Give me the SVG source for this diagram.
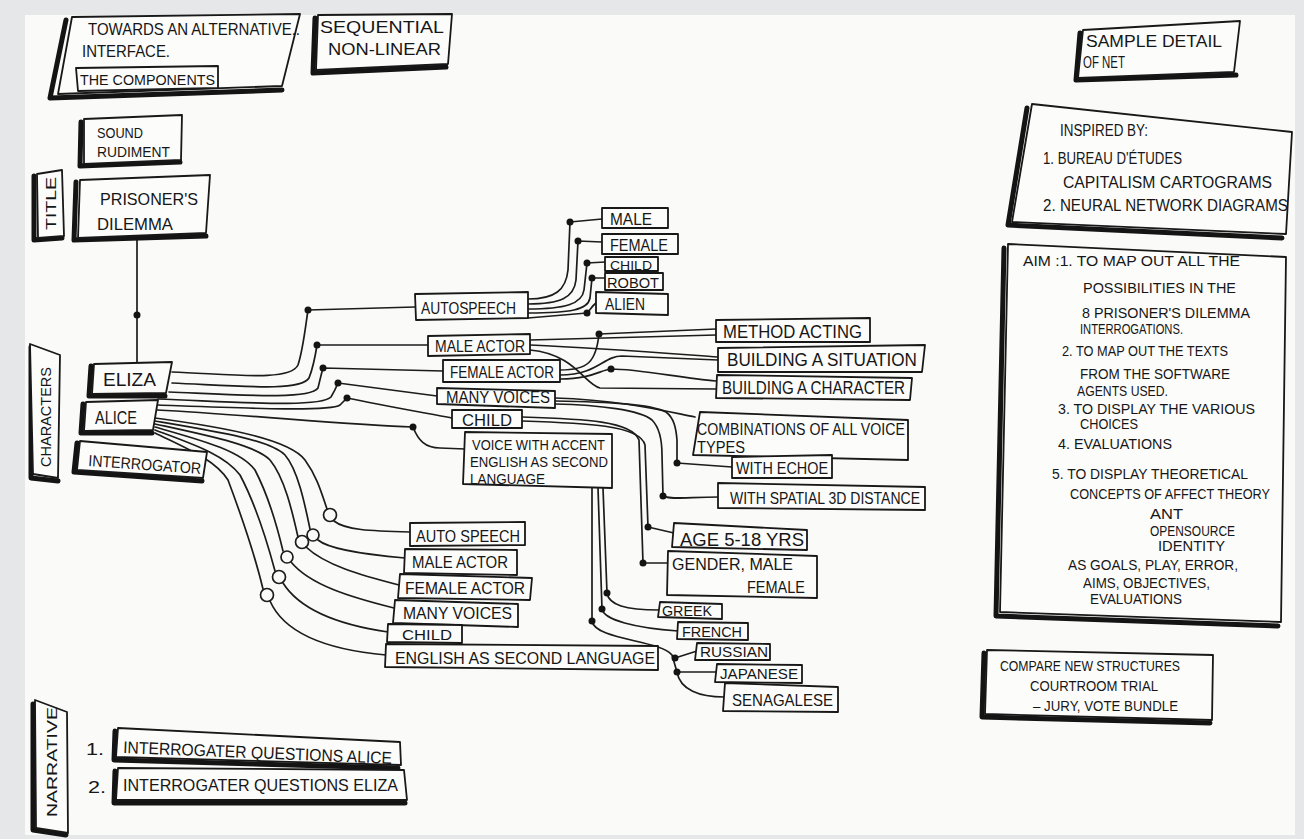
<svg xmlns="http://www.w3.org/2000/svg" width="1304" height="839" viewBox="0 0 1304 839">
<style>
.bg{fill:#e5e7e9}
.paper{fill:#fafaf9}
.box{fill:#fcfcfb;stroke:#181818;stroke-width:1.8;stroke-linejoin:round}
.sh{fill:none;stroke:#141414;stroke-width:5;stroke-linecap:round;stroke-linejoin:round}
.w{fill:none;stroke:#1c1c1c;stroke-width:1.7;stroke-linecap:round;stroke-linejoin:round}
.dot{fill:#141414}
.ring{fill:none;stroke:#1c1c1c;stroke-width:1.7}
text{font-family:"Liberation Sans",Arial,sans-serif;fill:#161616;font-size:17px}
.s{font-size:14px}
.xs{font-size:13px}
.m{font-size:18px}
.b{font-size:16px}
.a{font-size:14px}
.c{font-size:15px}
</style>
<rect class="bg" x="0" y="0" width="1304" height="839"/>
<rect class="paper" x="25" y="15" width="1270" height="820"/>

<g id="connectors">
  <path class="w" d="M137,237 L137,362"/>
  <circle class="dot" cx="137" cy="315" r="3.5"/>
  <path class="w" d="M172,372 C230,374 290,382 298,365 C303,350 305,330 308,310 L415,307"/>
  <path class="w" d="M172,383 C240,386 300,392 309,378 C313,368 315,358 317,345 L428,345"/>
  <path class="w" d="M169,392 C240,395 310,400 318,388 C320,380 321,375 323,368 L443,371"/>
  <path class="w" d="M158,399 C240,402 320,408 331,397 C334,392 336,388 338,383 L437,396"/>
  <path class="w" d="M158,405 C240,408 330,412 340,405 L347,398 C380,405 420,412 452,418"/>
  <path class="w" d="M157,410 C250,415 350,425 413,427 C418,440 425,448 440,448 L465,449"/>
  <circle class="dot" cx="308" cy="310" r="3.5"/>
  <circle class="dot" cx="317" cy="345" r="3.5"/>
  <circle class="dot" cx="323" cy="368" r="3.5"/>
  <circle class="dot" cx="338" cy="383" r="3.5"/>
  <circle class="dot" cx="347" cy="398" r="3.5"/>
  <circle class="dot" cx="413" cy="427" r="3.5"/>
  <path class="w" d="M155,418 C230,428 290,440 305,460 C318,478 322,495 327,509"/>
  <path class="w" d="M334,521 C345,530 370,531 410,532"/>
  <path class="w" d="M155,421 C220,432 270,440 285,455 C298,470 305,505 310,529"/>
  <path class="w" d="M318,540 C330,550 370,555 405,558"/>
  <path class="w" d="M155,424 C210,436 255,445 270,460 C285,478 293,515 298,537"/>
  <path class="w" d="M306,547 C325,565 360,575 399,585"/>
  <path class="w" d="M155,427 C200,440 240,450 255,470 C268,495 278,530 283,551"/>
  <path class="w" d="M291,562 C310,585 350,597 394,608"/>
  <path class="w" d="M155,430 C195,445 225,455 240,475 C256,505 268,545 275,571"/>
  <path class="w" d="M283,583 C300,610 340,625 388,632"/>
  <path class="w" d="M155,433 C190,450 215,460 228,480 C243,520 256,560 263,589"/>
  <path class="w" d="M270,601 C285,635 330,650 386,655"/>
  <circle class="ring" cx="330" cy="515" r="6.5"/>
  <circle class="ring" cx="313" cy="535" r="6"/>
  <circle class="ring" cx="302" cy="542" r="6.5"/>
  <circle class="ring" cx="287" cy="557" r="6"/>
  <circle class="ring" cx="279" cy="577" r="6.5"/>
  <circle class="ring" cx="267" cy="595" r="6.5"/>
  <path class="w" d="M528,299 C555,299 566,290 568,270 L570,222 L602,219"/>
  <path class="w" d="M528,304 C560,304 574,298 576,280 L578,241 L602,242"/>
  <path class="w" d="M528,309 C565,309 582,304 584,290 L587,263 L605,262"/>
  <path class="w" d="M528,313 C570,313 588,310 590,298 L592,278 L605,278"/>
  <path class="w" d="M528,318 L587,313 C590,310 592,306 596,303"/>
  <circle class="dot" cx="570" cy="222" r="3.5"/>
  <circle class="dot" cx="578" cy="241" r="3.5"/>
  <circle class="dot" cx="587" cy="263" r="3.5"/>
  <circle class="dot" cx="592" cy="278" r="3.5"/>
  <circle class="dot" cx="587" cy="313" r="3.5"/>
  <path class="w" d="M530,340 L716,335"/>
  <path class="w" d="M530,345 C600,348 650,352 718,357"/>
  <path class="w" d="M530,350 C575,354 585,385 600,388 L716,389"/>
  <path class="w" d="M560,370 C588,370 596,362 599,334 L716,329"/>
  <path class="w" d="M560,375 C598,375 603,356 622,356 L718,360"/>
  <path class="w" d="M560,379 C592,379 600,370 611,369 C640,369 680,378 716,381"/>
  <circle class="dot" cx="599" cy="334" r="3.5"/>
  <circle class="dot" cx="611" cy="369" r="3.5"/>
  <path class="w" d="M555,398 C620,400 660,410 695,417"/>
  <path class="w" d="M555,401 C610,402 650,404 666,412 C674,418 676,428 677,440 L677,463 L732,467"/>
  <path class="w" d="M555,404 C600,405 640,410 652,420 C660,428 662,440 662,455 L663,496 C670,500 690,497 718,497"/>
  <circle class="dot" cx="677" cy="463" r="3.5"/>
  <circle class="dot" cx="663" cy="496" r="3.5"/>
  <path class="w" d="M522,417 C585,419 632,421 639,440 L643,563 L668,563"/>
  <path class="w" d="M522,421 C585,423 640,425 645,445 L648,527 L674,533"/>
  <circle class="dot" cx="648" cy="527" r="3.5"/>
  <circle class="dot" cx="643" cy="563" r="3.5"/>
  <path class="w" d="M603,488 L607,593 C609,605 625,610 659,610"/>
  <path class="w" d="M598,488 L602,609 C604,620 635,628 678,631"/>
  <path class="w" d="M592,488 L592,621 C595,640 660,640 672,655 L677,672 C680,690 700,697 724,697"/>
  <path class="w" d="M675,658 L697,651"/>
  <path class="w" d="M677,672 L716,672"/>
  <circle class="dot" cx="607" cy="593" r="3.5"/>
  <circle class="dot" cx="602" cy="609" r="3.5"/>
  <circle class="dot" cx="592" cy="621" r="3.5"/>
  <circle class="dot" cx="675" cy="658" r="3.5"/>
  <circle class="dot" cx="677" cy="672" r="3.5"/>
</g>

<g id="n-towards">
  <polyline class="sh" points="66,20 50,98 282,90"/>
  <polygon class="box" points="72,17 300,14 282,86 58,94"/>
  <text x="88" y="35" textLength="212" lengthAdjust="spacingAndGlyphs">TOWARDS AN ALTERNATIVE..</text>
  <text x="82" y="57" textLength="88" lengthAdjust="spacingAndGlyphs">INTERFACE.</text>
  <polygon class="box" points="76,68 218,66 218,88 78,91"/>
  <text class="s" x="80" y="85" textLength="135" lengthAdjust="spacingAndGlyphs">THE COMPONENTS</text>
</g>
<g id="n-sequential">
  <polyline class="sh" points="315,18 313,73 446,67"/>
  <polygon class="box" points="318,15 452,14 448,64 316,70"/>
  <text x="320" y="33" textLength="124" lengthAdjust="spacingAndGlyphs">SEQUENTIAL</text>
  <text x="328" y="55" textLength="113" lengthAdjust="spacingAndGlyphs">NON-LINEAR</text>
</g>
<g id="n-sound">
  <polyline class="sh" points="81,122 80,166 180,162"/>
  <polygon class="box" points="84,119 182,115 181,160 84,164"/>
  <text class="c" x="97" y="138" textLength="46" lengthAdjust="spacingAndGlyphs">SOUND</text>
  <text class="c" x="97" y="157" textLength="73" lengthAdjust="spacingAndGlyphs">RUDIMENT</text>
</g>
<g id="n-title">
  <polyline class="sh" points="34,176 34,240 62,238"/>
  <polygon class="box" points="37,174 62,170 64,236 38,238"/>
  <text class="c" transform="translate(56,230) rotate(-90)" textLength="53" lengthAdjust="spacingAndGlyphs">TITLE</text>
</g>
<g id="n-prisoner">
  <polyline class="sh" points="76,182 74,240 206,236"/>
  <polygon class="box" points="80,180 210,175 206,233 78,238"/>
  <text x="100" y="205" textLength="98" lengthAdjust="spacingAndGlyphs">PRISONER'S</text>
  <text x="97" y="230" textLength="76" lengthAdjust="spacingAndGlyphs">DILEMMA</text>
</g>
<g id="n-characters">
  <polyline class="sh" points="31,347 31,478 58,481"/>
  <polygon class="box" points="30,344 60,355 58,478 33,474"/>
  <text class="c" transform="translate(51,467) rotate(-90)" textLength="100" lengthAdjust="spacingAndGlyphs">CHARACTERS</text>
</g>
<g id="n-eliza">
  <polyline class="sh" points="91,366 89,396 165,396"/>
  <polygon class="box" points="94,364 172,362 166,393 92,394"/>
  <text class="m" x="103" y="386" textLength="53" lengthAdjust="spacingAndGlyphs">ELIZA</text>
</g>
<g id="n-alice">
  <polyline class="sh" points="83,404 81,433 152,433"/>
  <polygon class="box" points="86,402 158,400 153,430 84,431"/>
  <text class="m" x="95" y="424" textLength="42" lengthAdjust="spacingAndGlyphs">ALICE</text>
</g>
<g id="n-interrogator">
  <polyline class="sh" points="77,443 74,472 202,481"/>
  <polygon class="box" points="80,441 207,452 203,478 77,470"/>
  <text class="b" x="88" y="466" transform="rotate(4,88,466)" textLength="113" lengthAdjust="spacingAndGlyphs">INTERROGATOR</text>
</g>

<g id="n-autospeech">
  <polygon class="box" points="415,294 528,292 528,318 416,320"/>
  <text x="421" y="314" textLength="95" lengthAdjust="spacingAndGlyphs">AUTOSPEECH</text>
</g>
<g id="n-male">
  <polygon class="box" points="602,208 668,208 668,228 602,228"/>
  <text class="b" x="610" y="225" textLength="42" lengthAdjust="spacingAndGlyphs">MALE</text>
</g>
<g id="n-female">
  <polygon class="box" points="602,234 678,234 678,254 602,254"/>
  <text class="b" x="610" y="251" textLength="58" lengthAdjust="spacingAndGlyphs">FEMALE</text>
</g>
<g id="n-child1">
  <polygon class="box" points="605,257 658,257 658,271 605,271"/>
  <text class="xs" x="610" y="270" textLength="42" lengthAdjust="spacingAndGlyphs">CHILD</text>
</g>
<g id="n-robot">
  <polygon class="box" points="605,273 663,273 663,290 605,290"/>
  <text class="c" x="607" y="288" textLength="52" lengthAdjust="spacingAndGlyphs">ROBOT</text>
</g>
<g id="n-alien">
  <polygon class="box" points="596,292 668,294 668,315 596,313"/>
  <text class="b" x="605" y="310" textLength="40" lengthAdjust="spacingAndGlyphs">ALIEN</text>
</g>
<g id="n-maleactor">
  <polygon class="box" points="428,336 530,334 530,354 428,356"/>
  <text class="b" x="435" y="352" textLength="90" lengthAdjust="spacingAndGlyphs">MALE ACTOR</text>
</g>
<g id="n-femaleactor">
  <polygon class="box" points="443,360 560,360 560,382 443,382"/>
  <text x="450" y="378" textLength="104" lengthAdjust="spacingAndGlyphs">FEMALE ACTOR</text>
</g>
<g id="n-manyvoices">
  <polygon class="box" points="437,388 555,391 555,408 437,404"/>
  <text class="b" x="446" y="403" textLength="104" lengthAdjust="spacingAndGlyphs">MANY VOICES</text>
</g>
<g id="n-child2">
  <polygon class="box" points="452,410 522,410 522,428 452,428"/>
  <text class="b" x="462" y="426" textLength="50" lengthAdjust="spacingAndGlyphs">CHILD</text>
</g>
<g id="n-accent">
  <polygon class="box" points="465,432 612,434 612,488 463,484"/>
  <text class="c" x="472" y="450" textLength="133" lengthAdjust="spacingAndGlyphs">VOICE WITH ACCENT</text>
  <text class="c" x="470" y="467" textLength="138" lengthAdjust="spacingAndGlyphs">ENGLISH AS SECOND</text>
  <text class="c" x="470" y="484" textLength="75" lengthAdjust="spacingAndGlyphs">LANGUAGE</text>
</g>
<g id="n-method">
  <polygon class="box" points="716,320 870,318 870,342 716,342"/>
  <text class="m" x="723" y="338" textLength="139" lengthAdjust="spacingAndGlyphs">METHOD ACTING</text>
</g>
<g id="n-situation">
  <polygon class="box" points="718,348 925,345 922,372 718,372"/>
  <text class="m" x="727" y="366" textLength="190" lengthAdjust="spacingAndGlyphs">BUILDING A SITUATION</text>
</g>
<g id="n-character">
  <polygon class="box" points="717,375 912,378 910,400 716,398"/>
  <text class="m" x="722" y="394" textLength="183" lengthAdjust="spacingAndGlyphs">BUILDING A CHARACTER</text>
</g>
<g id="n-combinations">
  <polygon class="box" points="700,412 908,420 908,460 693,455"/>
  <text x="697" y="435" textLength="208" lengthAdjust="spacingAndGlyphs">COMBINATIONS OF ALL VOICE</text>
  <text x="697" y="453" textLength="48" lengthAdjust="spacingAndGlyphs">TYPES</text>
</g>
<g id="n-echoe">
  <polygon class="box" points="732,457 832,455 832,478 732,478"/>
  <text x="736" y="474" textLength="92" lengthAdjust="spacingAndGlyphs">WITH ECHOE</text>
</g>
<g id="n-spatial">
  <polygon class="box" points="718,483 925,487 925,510 718,508"/>
  <text x="730" y="504" textLength="190" lengthAdjust="spacingAndGlyphs">WITH SPATIAL 3D DISTANCE</text>
</g>

<g id="n-autospeech2">
  <polygon class="box" points="410,523 525,522 525,545 410,546"/>
  <text x="416" y="542" textLength="104" lengthAdjust="spacingAndGlyphs">AUTO SPEECH</text>
</g>
<g id="n-maleactor2">
  <polygon class="box" points="405,549 517,550 517,575 404,573"/>
  <text x="412" y="568" textLength="96" lengthAdjust="spacingAndGlyphs">MALE ACTOR</text>
</g>
<g id="n-femaleactor2">
  <polygon class="box" points="400,574 532,578 530,600 398,598"/>
  <text x="405" y="594" textLength="120" lengthAdjust="spacingAndGlyphs">FEMALE ACTOR</text>
</g>
<g id="n-manyvoices2">
  <polygon class="box" points="395,600 518,604 518,627 393,623"/>
  <text x="403" y="619" textLength="109" lengthAdjust="spacingAndGlyphs">MANY VOICES</text>
</g>
<g id="n-child3">
  <polygon class="box" points="388,624 462,625 462,643 387,642"/>
  <text class="c" x="402" y="640" textLength="50" lengthAdjust="spacingAndGlyphs">CHILD</text>
</g>
<g id="n-english">
  <polygon class="box" points="386,644 658,646 658,670 385,667"/>
  <text x="395" y="664" textLength="260" lengthAdjust="spacingAndGlyphs">ENGLISH AS SECOND LANGUAGE</text>
</g>
<g id="n-age">
  <polygon class="box" points="674,523 807,530 807,550 672,547"/>
  <text class="m" x="680" y="546" textLength="124" lengthAdjust="spacingAndGlyphs">AGE 5-18 YRS</text>
</g>
<g id="n-gender">
  <polygon class="box" points="668,551 817,556 817,598 667,595"/>
  <text x="672" y="570" textLength="121" lengthAdjust="spacingAndGlyphs">GENDER, MALE</text>
  <text x="747" y="593" textLength="58" lengthAdjust="spacingAndGlyphs">FEMALE</text>
</g>
<g id="n-greek">
  <polygon class="box" points="660,602 722,604 722,619 658,617"/>
  <text class="s" x="662" y="616" textLength="50" lengthAdjust="spacingAndGlyphs">GREEK</text>
</g>
<g id="n-french">
  <polygon class="box" points="678,622 748,623 748,640 677,639"/>
  <text class="c" x="682" y="637" textLength="60" lengthAdjust="spacingAndGlyphs">FRENCH</text>
</g>
<g id="n-russian">
  <polygon class="box" points="697,643 770,644 770,660 695,660"/>
  <text class="s" x="700" y="657" textLength="68" lengthAdjust="spacingAndGlyphs">RUSSIAN</text>
</g>
<g id="n-japanese">
  <polygon class="box" points="717,664 802,665 802,683 715,682"/>
  <text class="s" x="720" y="679" textLength="78" lengthAdjust="spacingAndGlyphs">JAPANESE</text>
</g>
<g id="n-senagalese">
  <polygon class="box" points="725,683 838,687 838,712 723,711"/>
  <text x="732" y="706" textLength="101" lengthAdjust="spacingAndGlyphs">SENAGALESE</text>
</g>

<g id="n-sample">
  <polyline class="sh" points="1080,33 1076,80 1236,75"/>
  <polygon class="box" points="1083,30 1240,21 1234,72 1078,78"/>
  <text class="b" x="1086" y="47" textLength="136" lengthAdjust="spacingAndGlyphs">SAMPLE DETAIL</text>
  <text class="b" x="1083" y="68" textLength="42" lengthAdjust="spacingAndGlyphs">OF NET</text>
</g>
<g id="n-inspired">
  <polyline class="sh" points="1027,108 1008,225 1282,238"/>
  <polygon class="box" points="1032,104 1292,132 1286,234 1012,222"/>
  <text class="b" x="1060" y="136" textLength="88" lengthAdjust="spacingAndGlyphs">INSPIRED BY:</text>
  <text class="b" x="1043" y="164" textLength="139" lengthAdjust="spacingAndGlyphs">1. BUREAU D'ÉTUDES</text>
  <text class="b" x="1063" y="188" textLength="209" lengthAdjust="spacingAndGlyphs">CAPITALISM CARTOGRAMS</text>
  <text class="b" x="1043" y="211" textLength="245" lengthAdjust="spacingAndGlyphs">2. NEURAL NETWORK DIAGRAMS</text>
</g>
<g id="n-aim">
  <polyline class="sh" points="1004,248 996,616 1278,626"/>
  <polygon class="box" points="1008,244 1286,257 1281,622 1000,612"/>
  <text class="a" x="1023" y="266" textLength="217" lengthAdjust="spacingAndGlyphs">AIM :1. TO MAP OUT ALL THE</text>
  <text class="a" x="1083" y="293" textLength="153" lengthAdjust="spacingAndGlyphs">POSSIBILITIES IN THE</text>
  <text class="a" x="1082" y="318" textLength="168" lengthAdjust="spacingAndGlyphs">8 PRISONER'S DILEMMA</text>
  <text class="a" x="1080" y="334" textLength="103" lengthAdjust="spacingAndGlyphs">INTERROGATIONS.</text>
  <text class="a" x="1062" y="356" textLength="166" lengthAdjust="spacingAndGlyphs">2. TO MAP OUT THE TEXTS</text>
  <text class="a" x="1080" y="379" textLength="150" lengthAdjust="spacingAndGlyphs">FROM THE SOFTWARE</text>
  <text class="a" x="1077" y="396" textLength="91" lengthAdjust="spacingAndGlyphs">AGENTS USED.</text>
  <text class="a" x="1058" y="414" textLength="197" lengthAdjust="spacingAndGlyphs">3. TO DISPLAY THE VARIOUS</text>
  <text class="a" x="1080" y="429" textLength="58" lengthAdjust="spacingAndGlyphs">CHOICES</text>
  <text class="a" x="1058" y="449" textLength="114" lengthAdjust="spacingAndGlyphs">4. EVALUATIONS</text>
  <text class="a" x="1052" y="479" textLength="196" lengthAdjust="spacingAndGlyphs">5. TO DISPLAY THEORETICAL</text>
  <text class="a" x="1070" y="499" textLength="200" lengthAdjust="spacingAndGlyphs">CONCEPTS OF AFFECT THEORY</text>
  <text class="a" x="1150" y="519" textLength="33" lengthAdjust="spacingAndGlyphs">ANT</text>
  <text class="a" x="1150" y="536" textLength="85" lengthAdjust="spacingAndGlyphs">OPENSOURCE</text>
  <text class="a" x="1158" y="551" textLength="67" lengthAdjust="spacingAndGlyphs">IDENTITY</text>
  <text class="a" x="1068" y="570" textLength="170" lengthAdjust="spacingAndGlyphs">AS GOALS, PLAY, ERROR,</text>
  <text class="a" x="1083" y="588" textLength="127" lengthAdjust="spacingAndGlyphs">AIMS, OBJECTIVES,</text>
  <text class="a" x="1090" y="604" textLength="92" lengthAdjust="spacingAndGlyphs">EVALUATIONS</text>
</g>
<g id="n-compare">
  <polyline class="sh" points="984,653 982,717 1210,723"/>
  <polygon class="box" points="987,650 1213,655 1212,720 985,714"/>
  <text class="c" x="1000" y="671" textLength="180" lengthAdjust="spacingAndGlyphs">COMPARE NEW STRUCTURES</text>
  <text class="c" x="1030" y="691" textLength="128" lengthAdjust="spacingAndGlyphs">COURTROOM TRIAL</text>
  <text class="c" x="1033" y="711" textLength="145" lengthAdjust="spacingAndGlyphs">– JURY, VOTE BUNDLE</text>
</g>

<g id="n-narrative">
  <polyline class="sh" points="33,704 33,830 66,835"/>
  <polygon class="box" points="35,700 67,712 68,833 36,828"/>
  <text class="c" transform="translate(57,817) rotate(-90)" textLength="110" lengthAdjust="spacingAndGlyphs">NARRATIVE</text>
</g>
<g id="n-narr1">
  <text x="86" y="755" textLength="18" lengthAdjust="spacingAndGlyphs">1.</text>
  <polyline class="sh" points="115,731 114,760 398,768"/>
  <polygon class="box" points="118,728 400,742 401,765 116,757"/>
  <text x="123" y="753" transform="rotate(2.3,123,753)" textLength="269" lengthAdjust="spacingAndGlyphs">INTERROGATER QUESTIONS ALICE</text>
</g>
<g id="n-narr2">
  <text x="88" y="793" textLength="18" lengthAdjust="spacingAndGlyphs">2.</text>
  <polyline class="sh" points="115,771 114,803 405,803"/>
  <polygon class="box" points="118,768 404,770 407,800 116,800"/>
  <text x="123" y="791" textLength="275" lengthAdjust="spacingAndGlyphs">INTERROGATER QUESTIONS ELIZA</text>
</g>
</svg>
